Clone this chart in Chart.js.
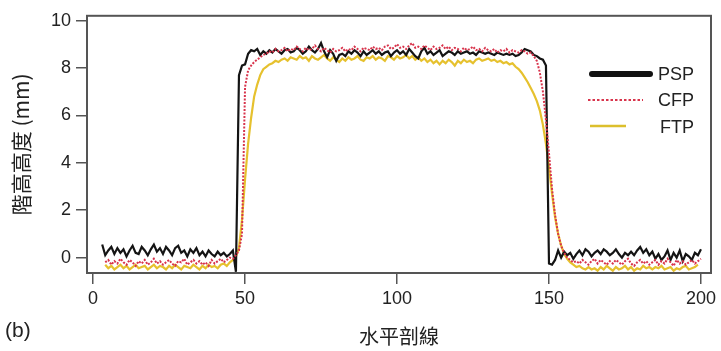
<!DOCTYPE html>
<html>
<head>
<meta charset="utf-8">
<script src="https://cdn.jsdelivr.net/npm/chart.js@4.4.1/dist/chart.umd.min.js"></script>
<style>
    html, body { margin: 0; padding: 0; background: #fff; }
    #wrap { width: 721px; height: 351px; }
</style>
</head>
<body>
<div id="wrap"><canvas id="chart" width="721" height="351"></canvas></div>
<script>
// Step profile data (x step = 1)
const PSP_START = 3;
const PSP = [
    0.55, 0.1, 0.3, 0.45, 0.15, 0.4, 0.2, 0.35, 0.05, 0.3,
    0.5, 0.2, 0.15, 0.45, 0.3, 0.1, 0.35, 0.55, 0.25, 0.4,
    0.15, 0.45, 0.3, 0.1, 0.4, 0.5, 0.2, 0.3, 0.05, 0.35,
    0.2, 0.4, 0.1, 0.25, 0.05, 0.3, 0.15, 0.05, 0.25, 0.1,
    0.2, 0.05, 0.15, 0.3, -0.6, 7.7, 8.1, 8.15, 8.6, 8.75,
    8.7, 8.8, 8.55, 8.7, 8.6, 8.75, 8.65, 8.8, 8.7, 8.6,
    8.75, 8.8, 8.65, 8.7, 8.85, 8.75, 8.6, 8.7, 8.9, 8.75,
    8.65, 8.8, 9.05, 8.7, 8.45, 8.75, 8.6, 8.3, 8.55, 8.6,
    8.5, 8.7, 8.6, 8.75, 8.65, 8.5, 8.7, 8.55, 8.65, 8.75,
    8.6, 8.7, 8.55, 8.65, 8.7, 8.5, 8.65, 8.75, 8.6, 8.7,
    8.55, 8.8, 8.65, 8.5, 8.4, 8.7, 8.85, 8.6, 8.7, 8.55,
    8.65, 8.75, 8.5, 8.6, 8.7, 8.65, 8.55, 8.7, 8.6, 8.65,
    8.7, 8.6, 8.65, 8.55, 8.7, 8.65, 8.6, 8.65, 8.6, 8.55,
    8.65, 8.6, 8.55, 8.6, 8.55, 8.6, 8.5, 8.55, 8.65, 8.8,
    8.75, 8.7, 8.55, 8.5, 8.4, 8.35, 8.1, -0.25, -0.3, -0.1,
    0.3, 0.0, 0.25, 0.1, 0.2, -0.05, 0.15, 0.3, 0.1, 0.35,
    0.25, 0.05, 0.2, 0.3, 0.15, 0.35, 0.25, 0.1, 0.2, 0.35,
    0.15, 0.0, 0.2, 0.1, 0.25, 0.1, 0.3, 0.45, 0.2, 0.35,
    0.1, 0.25, -0.05, 0.15, -0.1, 0.05, 0.3, -0.1, 0.2, 0.0,
    0.3, -0.15, 0.15, 0.05, -0.1, 0.2, 0.1, 0.35
];

const CFP_START = 4;
const CFP = [
    -0.2, -0.1, -0.3, -0.15, -0.25, -0.05, -0.2, -0.3, -0.1, -0.2,
    -0.35, -0.15, -0.25, -0.1, -0.3, -0.2, -0.05, -0.25, -0.15, -0.3,
    -0.2, -0.1, -0.25, -0.35, -0.15, -0.2, -0.05, -0.3, -0.2, -0.1,
    -0.25, -0.15, -0.3, -0.2, -0.35, -0.1, -0.25, -0.15, -0.05, -0.2,
    -0.1, 0.0, -0.05, 0.1, 0.3, 1.0, 7.2, 7.9, 8.1, 8.25,
    8.35, 8.45, 8.55, 8.6, 8.7, 8.65, 8.8, 8.7, 8.75, 8.85,
    8.7, 8.8, 8.75, 8.9, 8.8, 8.7, 8.85, 8.75, 8.8, 8.95,
    8.8, 8.7, 8.85, 8.75, 8.65, 8.8, 8.7, 8.75, 8.85, 8.7,
    8.8, 8.75, 8.9, 8.8, 8.7, 8.85, 8.8, 8.75, 8.9, 8.8,
    8.85, 8.75, 8.9, 8.95, 8.8, 8.85, 9.0, 8.85, 8.9, 8.8,
    8.95, 9.05, 8.85, 8.9, 8.8, 8.95, 8.85, 8.75, 8.9, 8.8,
    8.85, 8.95, 8.8, 8.9, 8.75, 8.85, 8.8, 8.7, 8.85, 8.75,
    8.8, 8.9, 8.75, 8.8, 8.7, 8.85, 8.75, 8.7, 8.8, 8.65,
    8.75, 8.7, 8.8, 8.65, 8.75, 8.7, 8.65, 8.75, 8.7, 8.6,
    8.65, 8.5, 8.3, 7.8, 7.0, 5.8, 4.4, 2.9, 1.8, 1.0,
    0.5, 0.2, 0.0, -0.1, -0.2, -0.15, -0.25, -0.1, -0.2, -0.3,
    -0.15, -0.05, -0.25, -0.1, -0.2, -0.3, -0.15, -0.25, -0.1, -0.2,
    -0.3, -0.15, -0.05, -0.25, -0.35, -0.2, -0.1, -0.25, -0.15, -0.3,
    -0.2, -0.1, -0.3, -0.15, -0.25, -0.05, -0.2, -0.35, -0.1, -0.25,
    -0.15, -0.3, -0.2, -0.1, -0.25, -0.15, -0.05
];

const FTP_START = 4;
const FTP = [
    -0.3, -0.45, -0.35, -0.5, -0.4, -0.3, -0.45, -0.35, -0.5, -0.4,
    -0.3, -0.45, -0.4, -0.35, -0.5, -0.4, -0.3, -0.45, -0.35, -0.4,
    -0.5, -0.35, -0.45, -0.3, -0.4, -0.5, -0.35, -0.4, -0.45, -0.3,
    -0.4, -0.5, -0.35, -0.45, -0.3, -0.4, -0.35, -0.45, -0.3, -0.25,
    -0.35, -0.2, -0.1, 0.05, 0.4, 1.6, 3.3, 4.8, 5.9, 6.8,
    7.3, 7.7, 7.95, 8.05, 8.15, 8.2, 8.3, 8.25, 8.35, 8.4,
    8.3, 8.45, 8.4, 8.35, 8.5, 8.4, 8.45, 8.3, 8.5, 8.4,
    8.35, 8.45, 8.55, 8.4, 8.3, 8.45, 8.35, 8.25, 8.4, 8.3,
    8.45, 8.35, 8.4, 8.5, 8.35, 8.3, 8.45, 8.4, 8.5, 8.35,
    8.45, 8.4, 8.3, 8.5, 8.45, 8.35, 8.5, 8.4, 8.45, 8.55,
    8.4, 8.5, 8.35, 8.45, 8.3, 8.4, 8.25, 8.35, 8.2, 8.3,
    8.15, 8.3, 8.2, 8.35, 8.25, 8.1, 8.3, 8.2, 8.35, 8.25,
    8.3, 8.2, 8.35, 8.4, 8.3, 8.35, 8.4, 8.3, 8.35, 8.25,
    8.3, 8.2, 8.25, 8.15, 8.2, 8.05, 7.95, 7.8, 7.6, 7.4,
    7.15, 6.9, 6.6, 6.2, 5.6, 4.8, 3.8, 2.7, 1.7, 1.0,
    0.5, 0.15, -0.05, -0.2, -0.3, -0.4, -0.35, -0.45, -0.5, -0.4,
    -0.5, -0.45, -0.55, -0.4, -0.5, -0.35, -0.45, -0.55, -0.4, -0.5,
    -0.45, -0.35, -0.5, -0.4, -0.55, -0.45, -0.5, -0.35, -0.45, -0.4,
    -0.5, -0.4, -0.45, -0.35, -0.5, -0.45, -0.4, -0.55, -0.45, -0.5,
    -0.4, -0.35, -0.5, -0.45, -0.4, -0.3
];

const X_TICKS = [0, 50, 100, 150, 200];
const Y_TICKS = [0, 2, 4, 6, 8, 10];
const LABELS = ['PSP', 'CFP', 'FTP'];

const FONT = "'Liberation Sans', Arial, sans-serif";
const CJK = "'Noto Sans CJK TC', 'Noto Sans CJK SC', sans-serif";

function toPoints(start, values) {
    return values.map((v, i) => ({ x: start + i, y: v }));
}

// Frame, legend and panel letter
const decorations = {
    id: 'decorations',
    afterDatasetsDraw(chart) {
        const { ctx, chartArea: a } = chart;
        ctx.save();
        ctx.strokeStyle = '#555';
        ctx.lineWidth = 2;
        ctx.strokeRect(a.left, a.top, a.right - a.left, a.bottom - a.top);

        // legend
        ctx.font = '18px ' + FONT;
        ctx.fillStyle = '#222';
        ctx.textBaseline = 'middle';
        ctx.lineCap = 'round';

        ctx.strokeStyle = '#111';
        ctx.lineWidth = 6;
        ctx.beginPath(); ctx.moveTo(592, 74); ctx.lineTo(650, 74); ctx.stroke();
        ctx.fillText(LABELS[0], 658, 75);

        ctx.lineCap = 'butt';
        ctx.strokeStyle = '#d8344c';
        ctx.lineWidth = 2;
        ctx.setLineDash([2.5, 2]);
        ctx.beginPath(); ctx.moveTo(588, 100); ctx.lineTo(643, 100); ctx.stroke();
        ctx.setLineDash([]);
        ctx.fillText(LABELS[1], 658, 101);

        ctx.strokeStyle = '#dcbf2c';
        ctx.lineWidth = 2.5;
        ctx.beginPath(); ctx.moveTo(590, 126); ctx.lineTo(626, 126); ctx.stroke();
        ctx.fillText(LABELS[2], 660, 128);

        ctx.font = '21px ' + FONT;
        ctx.fillText('(b)', 5, 331);
        ctx.restore();
    }
};

const ctx = document.getElementById('chart').getContext('2d');
new Chart(ctx, {
    type: 'line',
    data: {
        datasets: [
            {
                label: LABELS[0],
                data: toPoints(PSP_START, PSP),
                borderColor: '#141414',
                borderWidth: 2.2,
                order: 2
            },
            {
                label: LABELS[1],
                data: toPoints(CFP_START, CFP),
                borderColor: '#d8344c',
                borderWidth: 2,
                borderDash: [2, 1.5],
                order: 1
            },
            {
                label: LABELS[2],
                data: toPoints(FTP_START, FTP),
                borderColor: '#e6c12e',
                borderWidth: 2.2,
                order: 3
            }
        ]
    },
    options: {
        responsive: false,
        animation: false,
        elements: {
            point: { radius: 0 },
            line: { tension: 0 }
        },
        layout: { padding: { left: 0, right: 10, top: 10, bottom: 0 } },
        plugins: {
            legend: { display: false },
            tooltip: { enabled: false }
        },
        scales: {
            x: {
                type: 'linear',
                min: -2,
                max: 203.3,
                afterBuildTicks: s => { s.ticks = X_TICKS.map(v => ({ value: v })); },
                afterFit: s => { s.height = 78; },
                border: { display: false },
                grid: { drawOnChartArea: false, color: '#555', lineWidth: 1.5, tickLength: 11 },
                ticks: { color: '#222', font: { family: FONT, size: 18 }, padding: 4, maxRotation: 0 },
                title: {
                    display: true,
                    text: '水平剖線',
                    color: '#222',
                    font: { family: CJK, size: 20 },
                    padding: { top: 0, bottom: 3 }
                }
            },
            y: {
                min: -0.65,
                max: 10.2,
                afterBuildTicks: s => { s.ticks = Y_TICKS.map(v => ({ value: v })); },
                afterFit: s => { s.width = 87; },
                border: { display: false },
                grid: { drawOnChartArea: false, color: '#555', lineWidth: 1.5, tickLength: 11 },
                ticks: { color: '#222', font: { family: FONT, size: 18 }, padding: 5 },
                title: {
                    display: true,
                    text: '階高高度 (mm)',
                    color: '#222',
                    font: { family: CJK, size: 21 },
                    padding: { top: 8, bottom: 0 }
                }
            }
        }
    },
    plugins: [decorations]
});
</script>
</body>
</html>
